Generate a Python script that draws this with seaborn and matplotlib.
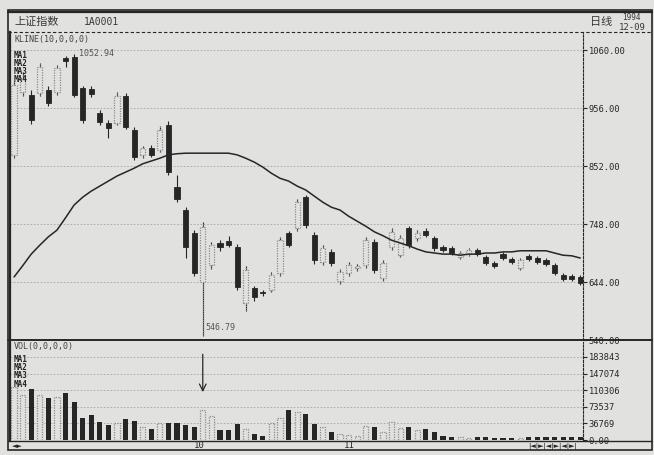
import matplotlib
matplotlib.use("Agg")
import matplotlib.pyplot as plt
from matplotlib.lines import Line2D
from matplotlib.patches import Rectangle
import pandas as pd
import seaborn as sns

# Daily candles, Shanghai composite, Sep - Dec 1994
OPEN = [872, 985, 979, 983, 988, 985, 1046, 1047, 992, 990,
        947, 929, 929, 978, 917, 872, 884, 881, 926, 814,
        773, 732, 644, 675, 714, 718, 707, 606, 633, 626,
        630, 660, 732, 741, 796, 728, 680, 698, 646, 660,
        669, 675, 716, 651, 707, 692, 741, 723, 735, 723,
        706, 705, 689, 694, 701, 688, 678, 694, 685, 669,
        690, 687, 683, 674, 656, 655, 653]
CLOSE = [997, 1010, 934, 1030, 965, 1028, 1040, 979, 934, 982,
         931, 920, 978, 922, 868, 884, 872, 917, 841, 793,
         707, 660, 742, 710, 707, 711, 635, 666, 617, 624,
         657, 719, 710, 787, 746, 683, 705, 678, 662, 675,
         672, 719, 666, 678, 734, 723, 710, 732, 728, 705,
         701, 696, 696, 701, 694, 678, 673, 687, 680, 683,
         685, 680, 676, 660, 650, 649, 642]
HIGH = [1005, 1020, 988, 1036, 995, 1033, 1050, 1052.94, 995, 996,
        952, 934, 984, 983, 922, 888, 890, 924, 932, 836,
        778, 737, 752, 716, 720, 726, 712, 672, 637, 630,
        662, 725, 736, 793, 800, 733, 710, 703, 668, 680,
        676, 724, 722, 684, 740, 729, 745, 737, 740, 727,
        710, 709, 700, 705, 705, 692, 682, 698, 689, 687,
        694, 691, 687, 678, 660, 659, 656]
LOW = [866, 978, 928, 978, 960, 980, 1030, 975, 930, 975,
       926, 902, 925, 918, 862, 866, 868, 878, 836, 788,
       687, 655, 546.79, 668, 700, 706, 630, 592, 610, 619,
       626, 655, 706, 736, 740, 677, 675, 672, 640, 655,
       664, 670, 660, 646, 702, 688, 705, 718, 724, 700,
       698, 692, 685, 690, 690, 674, 670, 683, 677, 666,
       682, 677, 673, 656, 646, 645, 638]
MA_LINE = [653, 673, 694, 710, 725, 737, 759, 782, 796, 807,
           816, 825, 834, 841, 848, 856, 861, 866, 872, 874,
           875, 875, 875, 875, 875, 875, 872, 866, 859, 850,
           839, 830, 825, 816, 809, 798, 787, 778, 773, 762,
           753, 744, 734, 727, 719, 714, 709, 703, 698, 696,
           694, 694, 692, 694, 694, 696, 696, 698, 698, 700,
           700, 700, 700, 696, 692, 691, 687]
VOLUME = [118000, 100000, 113000, 100000, 93000, 95000, 104000, 84000, 49000, 55000,
          40000, 33000, 38000, 47000, 42000, 29000, 24000, 38000, 38000, 38000,
          33000, 29000, 66000, 53000, 22000, 22000, 35000, 24000, 13000, 9000,
          38000, 49000, 66000, 62000, 58000, 35000, 29000, 18000, 13000, 11000,
          9000, 31000, 29000, 18000, 40000, 27000, 29000, 22000, 24000, 18000,
          9000, 7000, 7000, 4000, 7000, 7000, 5000, 4000, 4000, 4000,
          6000, 6000, 6000, 7000, 6000, 6000, 7000]

PRICE_TICKS = [1060, 956, 852, 748, 644, 540]
VOLUME_TICKS = [183843, 147074, 110306, 73537, 36769, 0]
MONTH_POS = [21, 38.5]
MONTH_LABELS = ["10", "11"]

W, H = 654, 455
BG = "#e1e1df"
INK = "#262626"
HOLLOW = "#8c8c8c"


def fx(x):
    return x / W


def fy(y):
    return 1 - y / H


sns.set_theme(style="white", rc={"axes.facecolor": BG, "figure.facecolor": BG})
plt.rcParams["font.family"] = ["DejaVu Sans Mono", "Noto Sans CJK SC", "DejaVu Sans"]

df = pd.DataFrame({"open": OPEN, "close": CLOSE, "high": HIGH, "low": LOW,
                   "ma": MA_LINE, "volume": VOLUME})
df["day"] = range(len(df))
df["up"] = df["close"] >= df["open"]
up = df[df["up"]]
down = df[~df["up"]]

fig = plt.figure(figsize=(W / 100, H / 100), dpi=100)
ax = fig.add_axes([fx(10), fy(340), fx(573), 308 / H])
axv = fig.add_axes([fx(10), fy(440), fx(573), 98 / H])

# --- price panel ---
ax.vlines(df["day"], df["low"], df["high"], color=INK, lw=0.8, zorder=2)
ax.vlines(up["day"], up["low"], up["high"], color=HOLLOW, lw=0.8, ls=(0, (1, 1)), zorder=2.1)
ax.bar(down["day"], down["open"] - down["close"], bottom=down["close"], width=0.6,
       color=INK, edgecolor=INK, lw=0.6, zorder=3)
ax.bar(up["day"], up["close"] - up["open"], bottom=up["open"], width=0.6,
       facecolor=BG, edgecolor=HOLLOW, lw=0.9, ls=(0, (1, 1)), zorder=3)
sns.lineplot(data=df, x="day", y="ma", ax=ax, color=INK, lw=1.1, zorder=4)

ax.set_xlim(-0.47, 66.32)
ax.set_ylim(540, 1092.3)
ax.set_yticks(PRICE_TICKS)
ax.set_yticklabels([f"{v:.2f}" for v in PRICE_TICKS])
ax.yaxis.tick_right()
ax.set_xticks([])
ax.set_xlabel("")
ax.set_ylabel("")
ax.grid(axis="y", color="#a4a4a4", ls=(0, (2, 2)), lw=0.6)

ax.text(7.6, 1052.94, "1052.94", fontsize=6, color="#555555", va="center")
ax.text(22.3, 546.79 + 8, "546.79", fontsize=6, color="#555555", va="bottom")
ax.text(0.0, 1078, "KLINE(10,0,0,0)", fontsize=6, color="#444444", va="center")

# --- volume panel ---
axv.bar(down["day"], down["volume"], width=0.6, color=INK, lw=0)
axv.bar(up["day"], up["volume"], width=0.6, facecolor=BG, edgecolor=HOLLOW,
        lw=0.9, ls=(0, (1, 1)))
axv.set_xlim(-0.47, 66.32)
axv.set_ylim(0, 217067)
axv.set_yticks(VOLUME_TICKS)
axv.set_yticklabels([str(v) if v else "0.00" for v in VOLUME_TICKS])
axv.yaxis.tick_right()
axv.set_xticks([])
axv.grid(axis="y", color="#a4a4a4", ls=(0, (2, 2)), lw=0.6)
axv.annotate("", xy=(22, 100000), xytext=(22, 196000),
             arrowprops=dict(arrowstyle="->", color=INK, lw=0.9))
axv.text(0.0, 207000, "VOL(0,0,0,0)", fontsize=6, color="#444444", va="center")

for a, ys in ((ax, [1050, 1036, 1022, 1008]), (axv, [178000, 160000, 142000, 124000])):
    for k, yv in enumerate(ys):
        a.text(0.0, yv, f"MA{k + 1}", fontsize=5.5, fontweight="bold", color=INK, va="center",
               zorder=6)

for a in (ax, axv):
    a.tick_params(axis="y", labelsize=6.3, length=3, width=0.8, pad=1, colors=INK, direction="out")
    for side in ("top", "bottom"):
        a.spines[side].set_visible(False)
    a.spines["left"].set_color(INK)
    a.spines["left"].set_linewidth(1.6)
    a.spines["right"].set_color(INK)
    a.spines["right"].set_linestyle((0, (2, 1.5)))
    a.spines["right"].set_linewidth(0.8)

# --- frame, header and date strip ---
fig.add_artist(Rectangle((fx(8), fy(450)), fx(644), 440 / H, fill=False,
                         ec=INK, lw=1.2, transform=fig.transFigure))
for yy, lw, ls in ((12, 1.6, "-"), (32, 0.8, (0, (3, 2))), (340, 1.4, "-"), (441, 1.0, "-")):
    fig.add_artist(Line2D([fx(8), fx(652)], [fy(yy), fy(yy)], color=INK, lw=lw, ls=ls,
                          transform=fig.transFigure))

fig.text(fx(14), fy(22), "上证指数", fontsize=8, color="#3a3a3a", va="center",
         family=["Noto Sans CJK SC", "DejaVu Sans"])
fig.text(fx(84), fy(22), "1A0001", fontsize=7, color="#3a3a3a", va="center")
fig.text(fx(590), fy(22), "日线", fontsize=8, color="#3a3a3a", va="center",
         family=["Noto Sans CJK SC", "DejaVu Sans"])
fig.text(fx(622), fy(17), "1994", fontsize=5.5, color="#3a3a3a", va="center")
fig.text(fx(619), fy(27), "12-09", fontsize=6.5, color="#3a3a3a", va="center")

for pos, lab in zip(MONTH_POS, MONTH_LABELS):
    fig.text(fx(14 + 8.58 * pos), fy(446), lab, fontsize=6.5, color=INK, va="center")
fig.text(fx(12), fy(446), "◄►", fontsize=5, color=INK, va="center", family="DejaVu Sans")
fig.text(fx(528), fy(446), "|◄|►|◄|►|◄|►|", fontsize=5, color=INK, va="center",
         family="DejaVu Sans")

fig.savefig("out.png", dpi=100, facecolor=BG)
